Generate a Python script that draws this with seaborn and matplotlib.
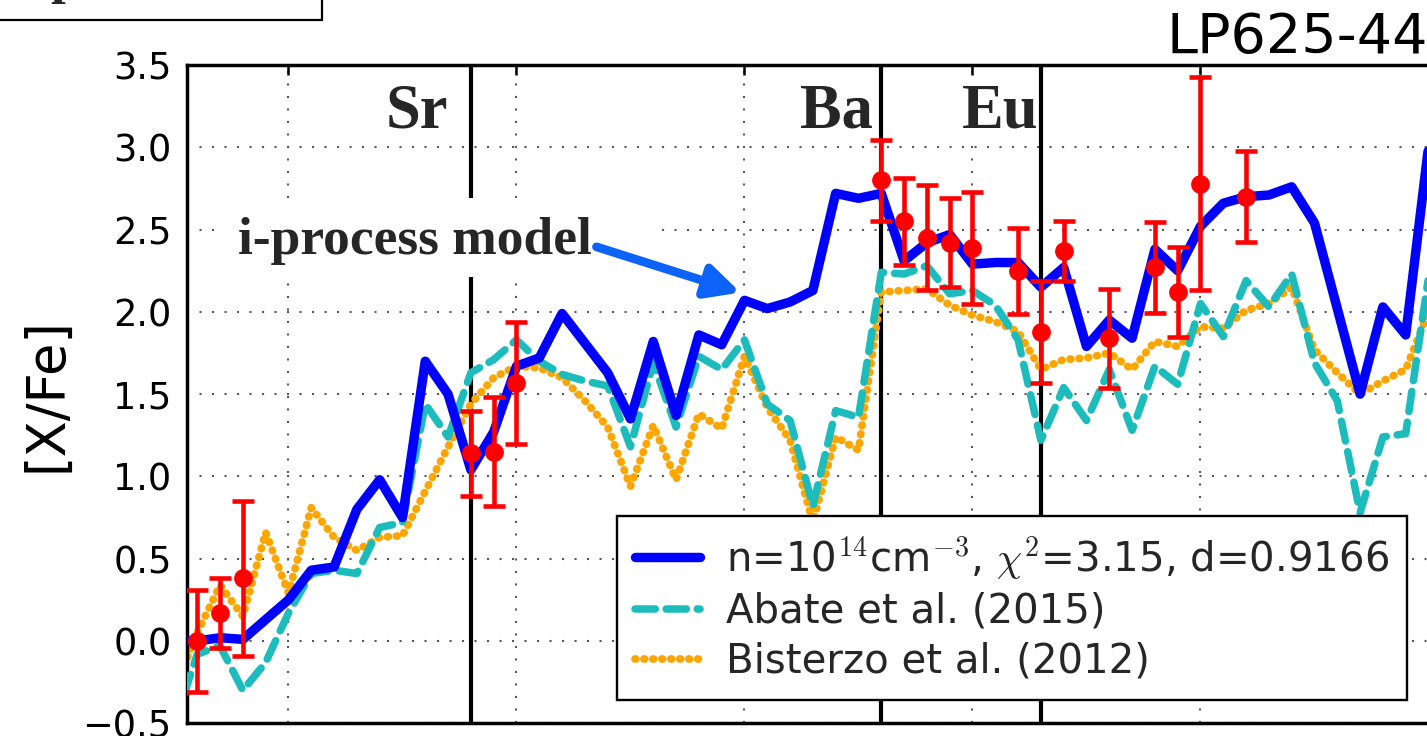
import matplotlib
matplotlib.use("Agg")
import matplotlib.pyplot as plt
from matplotlib.patches import Rectangle
import pandas as pd
import seaborn as sns

# ---- abundance pattern data -------------------------------------------------
# atomic numbers of the model predictions
z_model = list(range(25, 81))

# i-process model, n = 1e14 cm^-3
iproc_xfe = [0.00, 0.00, 0.02, 0.01, 0.13, 0.25, 0.43, 0.45, 0.80, 0.98,
             0.75, 1.70, 1.50, 1.04, 1.27, 1.67, 1.72, 1.99, 1.81, 1.63,
             1.35, 1.82, 1.37, 1.86, 1.80, 2.07, 2.02, 2.06, 2.13, 2.72,
             2.69, 2.72, 2.31, 2.42, 2.47, 2.29, 2.30, 2.30, 2.15, 2.27,
             1.79, 1.95, 1.84, 2.38, 2.25, 2.52, 2.66, 2.70, 2.71, 2.76,
             2.54, 2.02, 1.50, 2.03, 1.86, 3.00]

# Abate et al. (2015)
abate_xfe = [-0.50, -0.08, -0.03, -0.30, -0.13, 0.17, 0.41, 0.43, 0.41, 0.69,
             0.72, 1.44, 1.24, 1.63, 1.71, 1.83, 1.70, 1.62, 1.58, 1.55,
             1.18, 1.69, 1.30, 1.73, 1.65, 1.83, 1.44, 1.34, 0.82, 1.40,
             1.36, 2.24, 2.23, 2.28, 2.11, 2.13, 2.04, 1.83, 1.22, 1.54,
             1.34, 1.65, 1.28, 1.67, 1.56, 2.05, 1.85, 2.19, 2.03, 2.23,
             1.69, 1.46, 0.78, 1.24, 1.26, 2.21]

# Bisterzo et al. (2012)
bisterzo_xfe = [-0.30, 0.05, 0.34, 0.15, 0.66, 0.29, 0.81, 0.63, 0.55, 0.63,
                0.64, 0.91, 1.18, 1.44, 1.60, 1.67, 1.66, 1.60, 1.46, 1.30,
                0.94, 1.31, 0.98, 1.38, 1.29, 1.73, 1.42, 1.22, 0.72, 1.24,
                1.16, 2.12, 2.13, 2.14, 2.04, 1.98, 1.94, 1.88, 1.65, 1.71,
                1.72, 1.75, 1.65, 1.82, 1.79, 1.91, 1.90, 2.01, 2.05, 2.15,
                1.77, 1.63, 1.50, 1.58, 1.65, 2.00]

# observed abundances of LP625-44
obs_z = [26, 27, 28, 38, 39, 40, 56, 57, 58, 59, 60, 62, 63, 64, 66, 68, 69, 70, 72]
obs_xfe = [0.00, 0.17, 0.38, 1.14, 1.15, 1.57, 2.80, 2.55, 2.45, 2.42, 2.39,
           2.25, 1.88, 2.37, 1.84, 2.27, 2.12, 2.78, 2.70]
obs_err = [0.31, 0.21, 0.47, 0.26, 0.33, 0.37, 0.245, 0.265, 0.32, 0.27, 0.34,
           0.26, 0.31, 0.18, 0.30, 0.275, 0.275, 0.65, 0.275]

# reference elements
ref_names = ["Sr", "Ba", "Eu"]
ref_z = [38, 56, 63]

x_ticks = [30, 40, 50, 60, 70, 80]
y_ticks = [-0.5, 0.0, 0.5, 1.0, 1.5, 2.0, 2.5, 3.0, 3.5]

series_labels = [r"n=10$^{14}$cm$^{-3}$, $\chi^2$=3.15, d=0.9166",
                 "Abate et al. (2015)",
                 "Bisterzo et al. (2012)"]

models = pd.DataFrame({"Z": z_model, "iproc": iproc_xfe,
                       "abate": abate_xfe, "bisterzo": bisterzo_xfe})

# ---- style -------------------------------------------------------------------
sns.set_theme(style="white")
plt.rcParams["font.family"] = ["DejaVu Sans"]
plt.rcParams["mathtext.fontset"] = "cm"
plt.rcParams["axes.unicode_minus"] = True

SERIF = ["Liberation Serif", "DejaVu Serif"]

fig = plt.figure(figsize=(14.27, 7.36), dpi=100)
fig.patch.set_facecolor("white")
ax = fig.add_axes([0.13104, 0.01726, 0.90995, 0.8944])
ax.set_facecolor("white")
ax.set_axisbelow(True)

ax.grid(True, color="0.35", lw=1.5, linestyle=(0, (1, 5)))

for z in ref_z:
    ax.axvline(z, color="black", lw=3.0, zorder=2.3)

c_blue, c_cyan, c_orange = "blue", "#1cbcbc", "orange"

sns.lineplot(data=models, x="Z", y="bisterzo", ax=ax, color=c_orange, lw=5.6,
             linestyle=(0, (0.1, 1.05)), zorder=2.5)
sns.lineplot(data=models, x="Z", y="abate", ax=ax, color=c_cyan, lw=5.4,
             linestyle=(0, (2.7, 1.45)), zorder=2.6)
sns.lineplot(data=models, x="Z", y="iproc", ax=ax, color=c_blue, lw=6.8,
             zorder=2.8)
line_orange, line_cyan, line_blue = ax.get_lines()[-3:]
# rounded dots and dashes
line_orange.set_dash_capstyle("round")
line_cyan.set_dash_capstyle("round")

ax.errorbar(obs_z, obs_xfe, yerr=obs_err, fmt="o", color="red", ms=12.5,
            elinewidth=3.3, capsize=8, capthick=3.3, zorder=4)

# element labels
label_x = [37.0, 55.65, 62.9]
for name, lx in zip(ref_names, label_x):
    ax.text(lx, 3.123, name, ha="right", va="baseline", fontsize=45,
            family=SERIF, fontweight="bold", zorder=2.2,
            bbox=dict(boxstyle="square,pad=0.05", fc="white", ec="none"))

# i-process annotation
ax.add_patch(Rectangle((26.86, 2.211), 19.42, 0.48, fc="white", ec="none",
                       zorder=3.5))
ax.text(27.78, 2.351, "i-process model", ha="left", va="baseline",
        fontsize=38.5, family=SERIF, fontweight="bold", zorder=3.6)
ax.annotate("", xy=(50.0, 2.11), xytext=(43.51, 2.395),
            arrowprops=dict(arrowstyle="-|>,head_length=1.0,head_width=0.5",
                            mutation_scale=20, lw=6.3, color="#0d62f7",
                            shrinkA=0, shrinkB=3),
            zorder=6)

ax.set_xlim(25.55, 82.5)
ax.set_ylim(-0.5, 3.5)
ax.set_xticks(x_ticks)
ax.set_yticks(y_ticks)
ax.tick_params(direction="in", length=7.5, width=1.8, top=True, right=True,
               labelsize=26.5, pad=11, colors="black")
ax.tick_params(axis="x", labelbottom=False)
for sp in ax.spines.values():
    sp.set_visible(True)
    sp.set_color("black")
    sp.set_linewidth(2.5)

ax.set_xlabel("")
ax.set_ylabel("[X/Fe]", fontsize=38, color="black")
ax.yaxis.set_label_coords(-0.0886, 0.5)

ax.set_title("LP625-44", loc="right", fontsize=40, pad=0,
             x=(1428 - 187) / 1298.5, y=1.0182, color="black")

leg = ax.legend([line_blue, line_cyan, line_orange], series_labels,
                loc="lower right", bbox_to_anchor=(1407 / 1427, 1 - 700 / 736),
                bbox_transform=fig.transFigure, borderaxespad=0,
                frameon=True, fancybox=False, framealpha=1, edgecolor="black",
                fontsize=29, handlelength=1.6, handletextpad=0.65,
                labelspacing=0.25, borderpad=0.45)
leg.get_frame().set_linewidth(1.7)
leg.set_zorder(7)

# panel tag box at the top-left corner
fig.add_artist(Rectangle((-0.01, 1 - 20 / 736), 0.01 + 322 / 1427, 0.05,
                         transform=fig.transFigure, fc="white", ec="black",
                         lw=1.6))
fig.text(20 / 1427, 1 + 6.7 / 736, "i-process", fontsize=38, family=SERIF,
         fontweight="bold", va="baseline", ha="left")

fig.savefig("out.png", dpi=100)
